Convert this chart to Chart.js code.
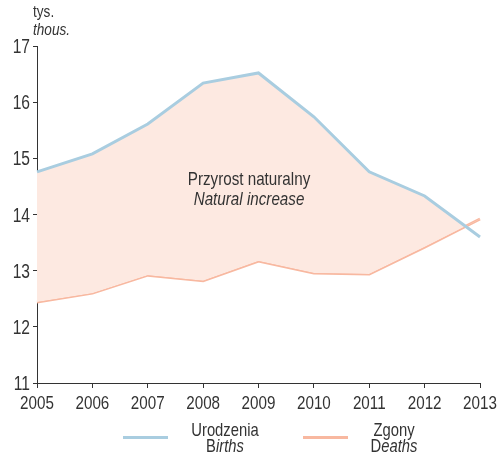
<!DOCTYPE html>
<html>
<head>
<meta charset="utf-8">
<script src="https://cdn.jsdelivr.net/npm/chart.js@4/dist/chart.umd.min.js"></script>
<style>
html,body{margin:0;padding:0;background:#fff;}
#wrap{width:498px;height:456px;position:relative;}
</style>
</head>
<body>
<div id="wrap"><canvas id="c" width="498" height="456"></canvas></div>
<script>
const years = ['2005','2006','2007','2008','2009','2010','2011','2012','2013'];
const births = [14.76, 15.08, 15.61, 16.34, 16.52, 15.74, 14.76, 14.33, 13.60];
const deaths = [12.44, 12.60, 12.92, 12.82, 13.17, 12.96, 12.94, 13.42, 13.92];
const yTicks = [11, 12, 13, 14, 15, 16, 17];

const FONT = '"Liberation Sans", Arial, sans-serif';
const TXT = '#333333';
const BLUE = '#a9cde0';
const SALMON = '#f8b8a0';
const FILL = '#fde9e1';
const SX = 0.8; // horizontal condensing of text

// draw a list of [text, italic] parts, condensed horizontally
function drawParts(ctx, parts, x, y, size, align) {
  let total = 0;
  const widths = parts.map(p => {
    ctx.font = (p[1] ? 'italic ' : '') + size + 'px ' + FONT;
    const w = ctx.measureText(p[0]).width * SX;
    total += w;
    return w;
  });
  let start = x;
  if (align === 'center') start = x - total / 2;
  else if (align === 'right') start = x - total;
  ctx.textAlign = 'left';
  ctx.textBaseline = 'alphabetic';
  parts.forEach((p, i) => {
    ctx.font = (p[1] ? 'italic ' : '') + size + 'px ' + FONT;
    ctx.save();
    ctx.translate(start, y);
    ctx.scale(SX, 1);
    ctx.fillText(p[0], 0, 0);
    ctx.restore();
    start += widths[i];
  });
}

const overlay = {
  id: 'overlay',
  afterDraw(chart) {
    const ctx = chart.ctx;
    const xs = chart.scales.x, ys = chart.scales.y;
    ctx.save();
    ctx.fillStyle = TXT;
    // tick labels
    years.forEach((yr, i) => {
      drawParts(ctx, [[yr, false]], xs.getPixelForTick(i), 409, 19, 'center');
    });
    yTicks.forEach(v => {
      drawParts(ctx, [[String(v), false]], 30, ys.getPixelForValue(v) + 7, 19.5, 'right');
    });
    // unit title
    drawParts(ctx, [['tys.', false]], 33, 17, 17, 'left');
    drawParts(ctx, [['thous.', true]], 33, 35, 17, 'left');
    // annotation
    drawParts(ctx, [['Przyrost naturalny', false]], 249, 185, 19, 'center');
    drawParts(ctx, [['Natural increase', true]], 249, 205, 19, 'center');
    // legend
    const items = [
      {lx: 123, tx: 225, color: BLUE, l1: 'Urodzenia', l2a: 'B', l2b: 'irths'},
      {lx: 303, tx: 394, color: SALMON, l1: 'Zgony', l2a: 'D', l2b: 'eaths'}
    ];
    items.forEach(it => {
      ctx.strokeStyle = it.color;
      ctx.lineWidth = 3;
      ctx.beginPath();
      ctx.moveTo(it.lx, 437.5);
      ctx.lineTo(it.lx + 45, 437.5);
      ctx.stroke();
      ctx.fillStyle = TXT;
      drawParts(ctx, [[it.l1, false]], it.tx, 436, 18.5, 'center');
      drawParts(ctx, [[it.l2a, false], [it.l2b, true]], it.tx, 452, 18.5, 'center');
    });
    ctx.restore();
  }
};

new Chart(document.getElementById('c'), {
  type: 'line',
  data: {
    labels: years,
    datasets: [
      {
        label: 'Urodzenia',
        data: births,
        borderColor: BLUE,
        borderWidth: 3,
        pointRadius: 0,
        tension: 0,
        fill: {target: 1, above: FILL, below: 'rgba(0,0,0,0)'}
      },
      {
        label: 'Zgony',
        data: deaths,
        borderColor: SALMON,
        borderWidth: 3,
        pointRadius: 0,
        tension: 0,
        fill: false
      }
    ]
  },
  options: {
    responsive: false,
    animation: false,
    layout: {padding: {top: 46, right: 18, left: 0, bottom: 43}},
    plugins: {legend: {display: false}, tooltip: {enabled: false}},
    scales: {
      x: {
        type: 'category',
        offset: false,
        grid: {drawOnChartArea: false, tickLength: 5, color: TXT, lineWidth: 1},
        border: {color: TXT, width: 1},
        ticks: {callback: () => '', maxRotation: 0, autoSkip: false},
        afterFit(s) { s.height = 30; }
      },
      y: {
        min: 11,
        max: 17,
        afterBuildTicks(s) { s.ticks = yTicks.map(v => ({value: v})); },
        grid: {drawOnChartArea: false, tickLength: 4, color: TXT, lineWidth: 1},
        border: {color: TXT, width: 1},
        ticks: {callback: () => ''},
        afterFit(s) { s.width = 37; }
      }
    }
  },
  plugins: [overlay]
});
</script>
</body>
</html>
